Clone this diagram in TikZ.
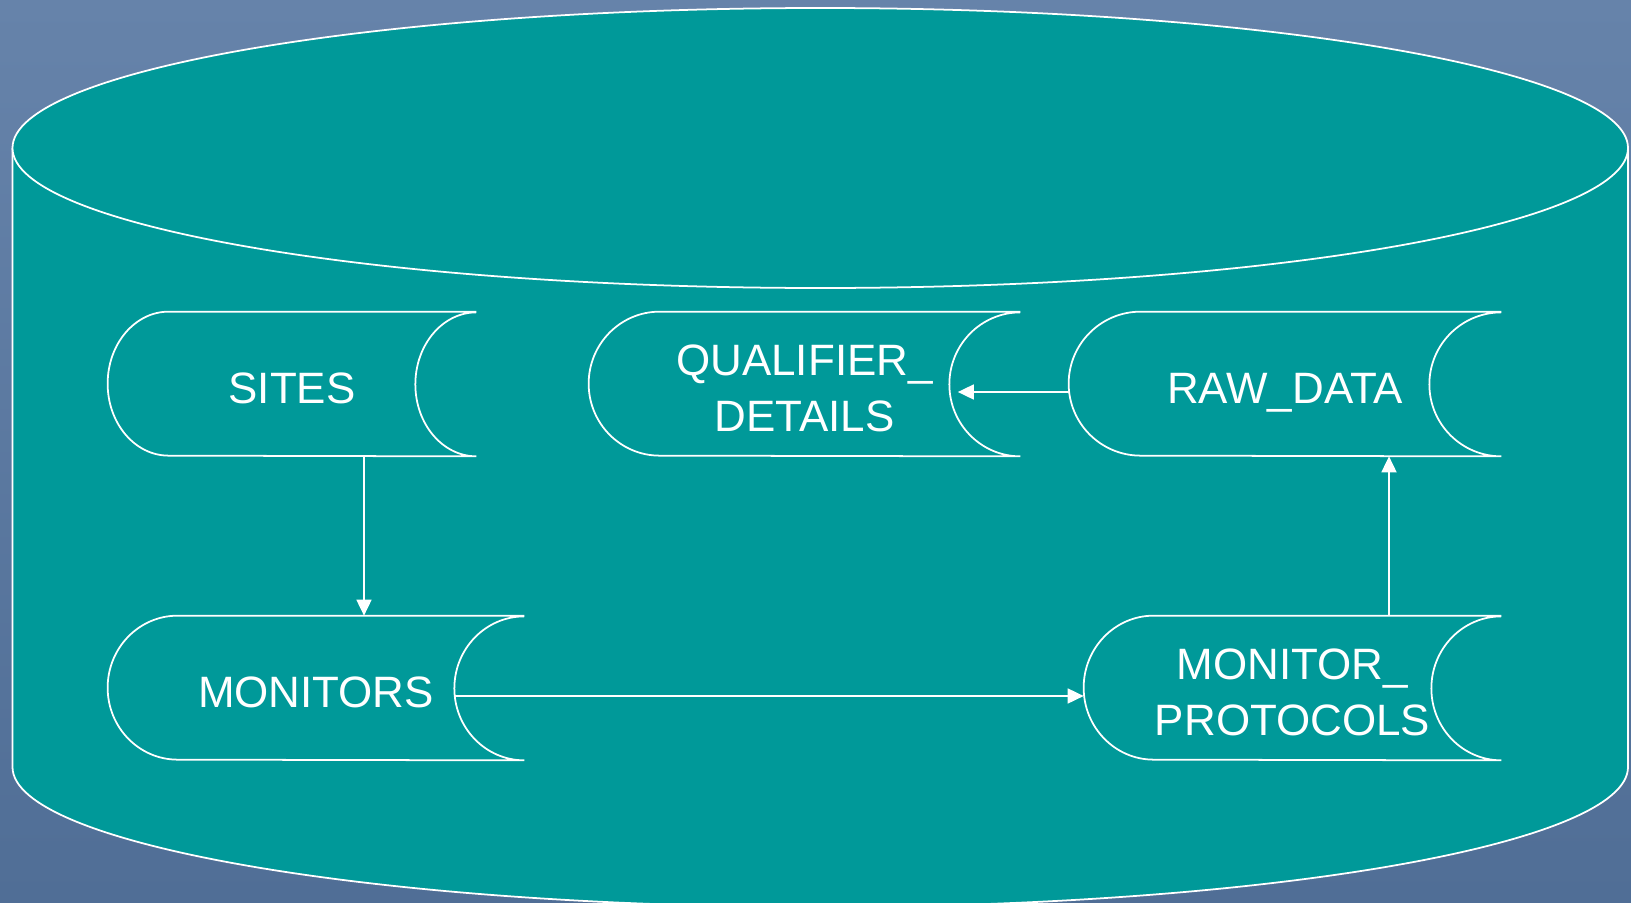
\documentclass[tikz,border=0pt]{standalone}
\usepackage{fontspec}
\setmainfont{Liberation Sans}
\usetikzlibrary{arrows.meta,positioning}
\definecolor{dbteal}{RGB}{0,153,153}
\definecolor{slatetop}{RGB}{102,131,170}
\definecolor{slatebot}{RGB}{80,110,150}

\begin{document}
\begin{tikzpicture}[
    store/.style={minimum height=2.88cm,inner sep=0pt,text=white,align=center,text height=0.79cm,text depth=0pt,font=\fontsize{25}{31.9}\selectfont},
    twoline/.style={text height=1.905cm},
    edge/.style={white,line width=1pt},
    link/.style={white,line width=1pt,-{Triangle[length=0.32cm,width=0.3cm]}}
]
\useasboundingbox (0,0) rectangle (32.62,-18.04);
\shade[top color=slatetop,bottom color=slatebot] (0,0) rectangle (32.62,-18.04);
\draw[edge,fill=dbteal] (0.25,-2.96) -- (0.25,-15.34) arc[start angle=180,end angle=360,x radius=16.155cm,y radius=2.8cm] -- (32.56,-2.96);
\draw[edge,fill=dbteal] (16.405,-2.96) ellipse [x radius=16.155cm,y radius=2.8cm];

\node[store,minimum width=7.36cm] (sites) at (5.84,-7.68) {SITES};
\node[store,twoline,minimum width=8.62cm] (qual) at (16.09,-7.68) {QUALIFIER\_\\DETAILS};
\node[store,minimum width=8.64cm] (raw) at (25.70,-7.68) {RAW\_DATA};
\node[store,minimum width=8.32cm] (mon) at (6.32,-13.76) {MONITORS};
\node[store,twoline,minimum width=8.34cm] (prot) at (25.85,-13.76) {MONITOR\_\\PROTOCOLS};

\foreach \n/\b in {sites/1.22,qual/1.42,raw/1.44,mon/1.4,prot/1.4}
  \draw[edge] (\n.north east) -- ([xshift=\b cm]\n.north west) arc[start angle=90,end angle=270,x radius=\b cm,y radius=1.44cm] -- (\n.south east) arc[start angle=270,end angle=90,x radius=\b cm,y radius=1.44cm];

\draw[link] ([xshift=1.44cm]sites.south) -- ([xshift=1.44cm]sites.south |- mon.north);
\draw[link] ([xshift=1.93cm]prot.north) -- ([xshift=1.93cm]prot.north |- raw.south);
\draw[link] ([yshift=-0.16cm]raw.west) -- ([xshift=-1.25cm,yshift=-0.16cm]qual.east);
\draw[link] ([xshift=-1.4cm,yshift=-0.16cm]mon.east) -- ([yshift=-0.16cm]prot.west);
\end{tikzpicture}
\end{document}
